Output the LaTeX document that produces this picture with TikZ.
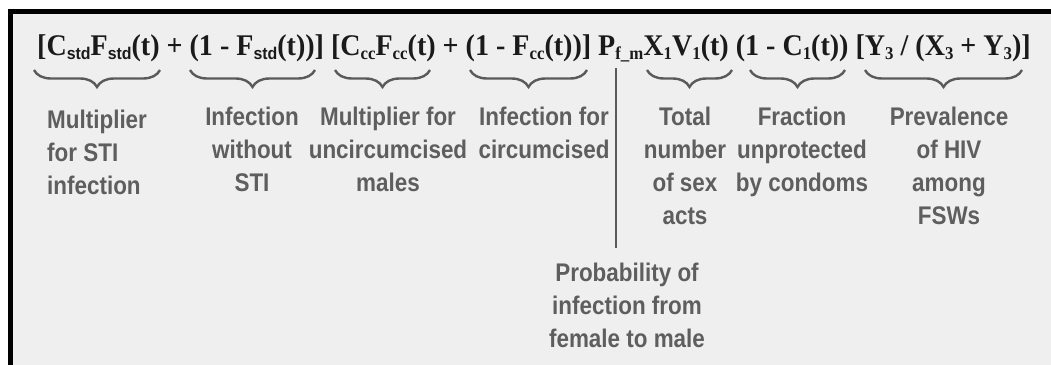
\documentclass[tikz,border=0pt]{standalone}
\usepackage{fontspec}
\usetikzlibrary{decorations.pathreplacing}
\newfontfamily\lblfont[FakeStretch=0.88]{Liberation Sans}
\newfontfamily\eqfont[FakeStretch=0.935]{Liberation Serif}
\newfontfamily\subsans[FakeStretch=0.935]{Liberation Sans}
\newcommand\eqsub[1]{\raisebox{-4pt}{\fontsize{18}{18}\selectfont #1}}
\newcommand\eqsubs[1]{\raisebox{-4pt}{\subsans\fontsize{17}{17}\selectfont\bfseries #1}}
\definecolor{bgcol}{HTML}{EFEFEF}
\definecolor{lblcol}{HTML}{5E5E5E}
\definecolor{bracecol}{HTML}{5A5A5A}
\definecolor{eqcol}{HTML}{1A1A1A}
\tikzset{
  lbl/.style={inner sep=0pt, align=center, text=lblcol,
    font=\lblfont\bfseries\fontsize{25.5}{33}\selectfont},
  lblleft/.style={lbl, align=left},
  eq/.style={inner sep=0pt, text=eqcol,
    font=\eqfont\bfseries\fontsize{30}{30}\selectfont},
  bracedraw/.style={draw=bracecol, line width=2.4pt, decorate,
    decoration={brace, amplitude=17pt}},
  vline/.style={draw=bracecol, line width=2.6pt},
}
\begin{document}
\begin{tikzpicture}[x=1pt, y=-1pt]
\useasboundingbox (0,0) rectangle (1051,364);
\fill[white] (0,0) rectangle (1051,364);
\fill[bgcol] (10.5,11.5) rectangle (1060,370);
\draw[line width=5pt, miter limit=10] (10.5,370) -- (10.5,11.5) -- (1060,11.5);

% formula
\node[eq, anchor=base west] (formula) at (37,55)
 {[C\eqsubs{std}F\eqsubs{std}(t) + (1 - F\eqsubs{std}(t))] [C\eqsub{cc}F\eqsub{cc}(t) + (1 - F\eqsub{cc}(t))] P\eqsub{f\_m}X\eqsub{1}V\eqsub{1}(t) (1 - C\eqsub{1}(t)) [Y\eqsub{3} / (X\eqsub{3} + Y\eqsub{3})]};

% brace end points
\coordinate (b1l) at (34,70);  \coordinate (b1r) at (160,70);
\coordinate (b2l) at (190,70); \coordinate (b2r) at (315,70);
\coordinate (b3l) at (335,70); \coordinate (b3r) at (430,70);
\coordinate (b4l) at (470,70); \coordinate (b4r) at (587,70);
\coordinate (b5l) at (647,70); \coordinate (b5r) at (732,70);
\coordinate (b6l) at (750,70); \coordinate (b6r) at (845,70);
\coordinate (b7l) at (865,70); \coordinate (b7r) at (1022,70);

\draw[bracedraw] (b1r) -- (b1l);
\draw[bracedraw] (b2r) -- (b2l);
\draw[bracedraw] (b3r) -- (b3l);
\draw[bracedraw] (b4r) -- (b4l);
\draw[bracedraw] (b5r) -- (b5l);
\draw[bracedraw] (b6r) -- (b6l);
\draw[bracedraw] (b7r) -- (b7l);

% labels (base anchor = baseline of the last line)
\node[lblleft, anchor=base west] (l1) at (47,194) {Multiplier\\for STI\\infection};
\node[lbl, anchor=base] (l2) at (252,191) {Infection\\without\\STI};
\node[lbl, anchor=base] (l3) at (388,191) {Multiplier for\\uncircumcised\\males};
\node[lbl, anchor=base] (l4) at (544,158) {Infection for\\circumcised};
\node[lbl, anchor=base] (l5) at (685,224) {Total\\number\\of sex\\acts};
\node[lbl, anchor=base] (l6) at (802,191) {Fraction\\unprotected\\by condoms};
\node[lbl, anchor=base] (l7) at (949,224) {Prevalence\\of HIV\\among\\FSWs};
\node[lbl, anchor=base] (l8) at (627,347) {Probability of\\infection from\\female to male};

% vertical connector
\coordinate (vtop) at (616,68);
\coordinate (vbot) at (616,248);
\draw[vline] (vtop) -- (vbot);
\end{tikzpicture}
\end{document}
